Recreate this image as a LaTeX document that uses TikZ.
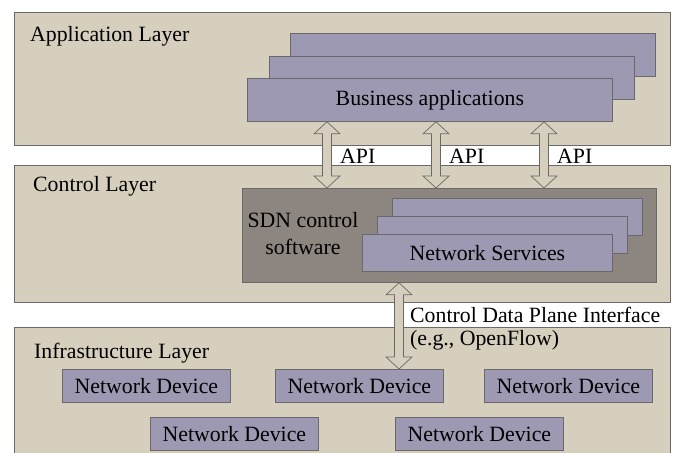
\documentclass[tikz,border=0pt]{standalone}
\usepackage{fontspec}
\setmainfont{Liberation Serif}
\usetikzlibrary{calc}

\definecolor{layerfill}{RGB}{214,207,190}
\definecolor{boxfill}{RGB}{157,153,178}
\definecolor{sdnfill}{RGB}{140,133,128}
\definecolor{edgegray}{RGB}{105,105,105}

\tikzset{
  every node/.style={font=\fontsize{21.8}{27}\selectfont},
  layer/.style={draw=edgegray, fill=layerfill, line width=0.8pt, anchor=north west,
    inner sep=0pt, minimum width=656pt},
  layertitle/.style={anchor=west, inner sep=0pt},
  appbox/.style={draw=edgegray, fill=boxfill, line width=0.8pt, anchor=north west,
    inner sep=0pt, minimum width=365pt, minimum height=43pt},
  servbox/.style={draw=edgegray, fill=boxfill, line width=0.8pt, anchor=north west,
    inner sep=0pt, minimum width=250pt, minimum height=37pt},
  devbox/.style={draw=edgegray, fill=boxfill, line width=0.8pt, anchor=north west,
    inner sep=0pt, minimum width=168pt, minimum height=33pt},
  note/.style={anchor=west, inner sep=0pt},
  fat/.style={draw=edgegray, fill=layerfill, line width=0.7pt,
    to path={let \p1=(\tikztostart), \p2=(\tikztotarget) in
      (\x1,\y1) -- (\x1+13pt,\y1-12pt) -- (\x1+4.5pt,\y1-12pt) -- (\x1+4.5pt,\y2+12pt)
      -- (\x1+13pt,\y2+12pt) -- (\x1,\y2) -- (\x1-13pt,\y2+12pt) -- (\x1-4.5pt,\y2+12pt)
      -- (\x1-4.5pt,\y1-12pt) -- (\x1-13pt,\y1-12pt) -- cycle}}
}

\begin{document}
\begin{tikzpicture}[x=1pt,y=-1pt]
  \useasboundingbox (0,0) rectangle (673,453);

  % layers
  \node[layer, minimum height=133pt] (appl) at (14,12) {};
  \node[layer, minimum height=137pt] (ctrl) at (14,165) {};
  \node[layer, minimum height=140pt] (infra) at (14,327) {};
  \node[layertitle] (appltitle) at (30,36) {Application Layer};
  \node[layertitle] (ctrltitle) at (33,186) {Control Layer};
  \node[layertitle] (infratitle) at (34,353) {Infrastructure Layer};

  % business applications
  \foreach \k in {2,1} {
    \node[appbox] at (247+21.5*\k,78-22.5*\k) {};
  }
  \node[appbox] (ba) at (247,78) {Business applications};

  % SDN control software
  \node[draw=edgegray, fill=sdnfill, line width=0.8pt, anchor=north west, inner sep=0pt,
    minimum width=414pt, minimum height=94pt] (sdn) at (242,188) {};
  \node[align=center, inner sep=0pt] (sdntext) at (303,234) {SDN control\\software};
  \foreach \k in {2,1} {
    \node[servbox] at (362+15*\k,234-18*\k) {};
  }
  \node[servbox] (ns) at (362,234) {Network Services};

  % network devices
  \node[devbox] (dev1) at (62,369) {Network Device};
  \node[devbox] (dev2) at (275,369) {Network Device};
  \node[devbox] (dev3) at (484,369) {Network Device};
  \node[devbox] (dev4) at (150,417) {Network Device};
  \node[devbox] (dev5) at (395,417) {Network Device};

  % interfaces
  \coordinate (a1) at (327,0);
  \coordinate (a2) at (436,0);
  \coordinate (a3) at (544,0);
  \coordinate (cd) at (399,0);
  \foreach \a in {a1,a2,a3} {
    \path[fat] (ba.south -| \a) to (sdn.north -| \a);
  }
  \path[fat] (sdn.south -| cd) to (dev2.north -| cd);

  \node[note] (api1) at (340,156) {API};
  \node[note] (api2) at (449,156) {API};
  \node[note] (api3) at (557,156) {API};
  \node[note] (cdpi) at (410,315) {Control Data Plane Interface};
  \node[note] (of) at (410,340) {(e.g., OpenFlow)};
\end{tikzpicture}
\end{document}
